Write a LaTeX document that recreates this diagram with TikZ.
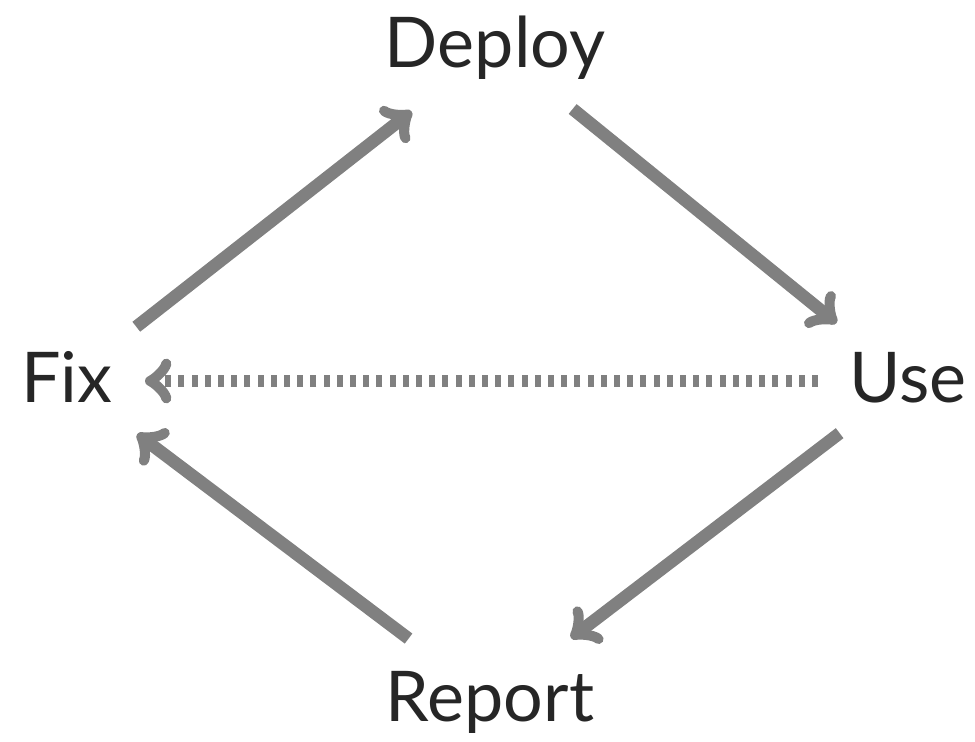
\documentclass[tikz,border=0pt]{standalone}
\usepackage{fontspec}
\setmainfont{Lato}
\begin{document}
\begin{tikzpicture}[
        x=0.5pt, y=0.5pt,
        font=\fontsize{35}{40}\selectfont,
        stage/.style={
            text=black!85, inner sep=0pt,
            text height=24pt, text depth=2.5pt
        },
        arr/.style={->, >=to, line width=6.3pt, color=gray},
        dotarr/.style={arr, dash pattern=on 3pt off 3.6pt}
    ]
    \useasboundingbox (0,0) rectangle (975,741);

    % Stages of the cycle
    \node[stage] (deploy) at (495, 695) {Deploy};
    \node[stage] (use)    at (908, 360) {Use};
    \node[stage] (report) at (490, 41)  {Report};
    \node[stage] (fix)    at (67, 360)  {Fix};

    % Cycle arrows
    \draw[arr, shorten <=44pt, shorten >=53pt] (fix.center) -- (deploy.center);
    \draw[arr, shorten <=50pt, shorten >=46pt] (deploy.center) -- (use.center);
    \draw[arr, shorten <=43pt, shorten >=51pt] (use.center) -- (report.center);
    \draw[arr, shorten <=51pt, shorten >=44pt] (report.center) -- (fix.center);

    % Shortcut
    \draw[dotarr, shorten <=45pt, shorten >=39pt] (use.center) -- (fix.center);

    \end{tikzpicture}
\end{document}
